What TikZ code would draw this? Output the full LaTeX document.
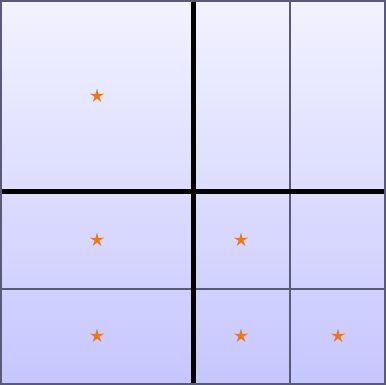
\documentclass[tikz,border=0pt]{standalone}
\usetikzlibrary{shapes.geometric}
\definecolor{topc}{RGB}{242,242,255}
\definecolor{botc}{RGB}{198,198,255}
\definecolor{edgec}{RGB}{90,90,120}
\definecolor{starc}{RGB}{240,120,20}
\tikzset{
  starmark/.style={star, star points=5, star point ratio=3, fill=starc, draw=none, inner sep=0pt, minimum size=15pt},
  thinline/.style={draw=edgec, line width=1.2pt},
  thickline/.style={draw=black, line width=5pt}
}
\begin{document}
\begin{tikzpicture}[x=1pt,y=-1pt]
\useasboundingbox (0,0) rectangle (386,385);
\shade[top color=topc, bottom color=botc] (1,1) rectangle (385,384);
\draw[thinline] (290,1) -- (290,384);
\draw[thinline] (1,289) -- (385,289);
\draw[thickline] (193.5,1) -- (193.5,384);
\draw[thickline] (1,192) -- (385,192);
\draw[thinline] (1,1) rectangle (385,384);
\node[starmark] (s1) at (97,96) {};
\node[starmark] (s2) at (97,240) {};
\node[starmark] (s3) at (241,240) {};
\node[starmark] (s4) at (97,336) {};
\node[starmark] (s5) at (241,336) {};
\node[starmark] (s6) at (338,336) {};
\end{tikzpicture}
\end{document}
